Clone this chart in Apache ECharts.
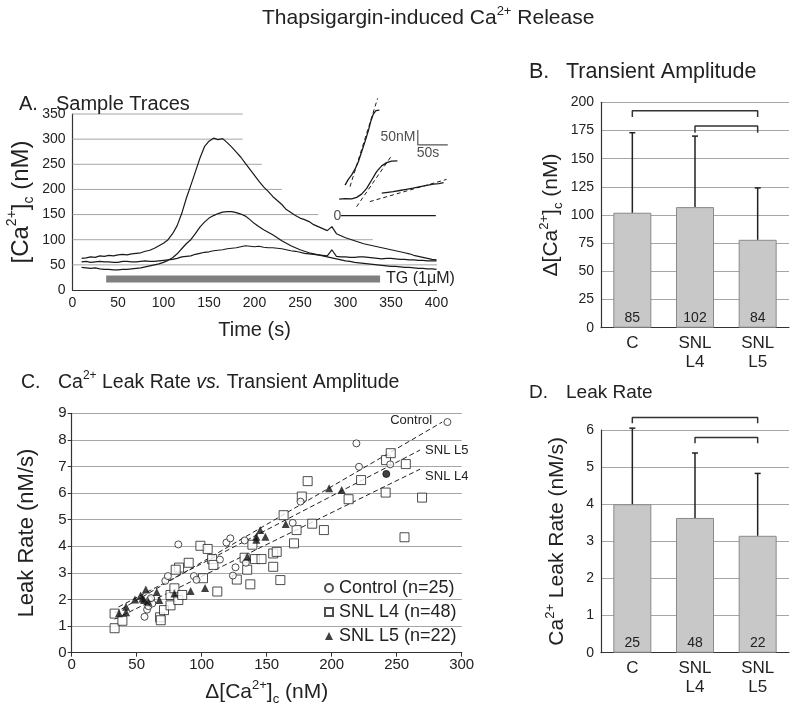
<!DOCTYPE html>
<html>
<head>
<meta charset="utf-8">
<script src="https://cdn.jsdelivr.net/npm/echarts@6/dist/echarts.min.js"></script>
<style>
  html, body { margin: 0; background: #fff; }
  #main { width: 800px; height: 707px; }
</style>
</head>
<body>
<div id="main"></div>
<script>
// ---- panel A: sample traces (nM, every 5 s)
const traceTime = [10, 15, 20, 25, 30, 35, 40, 45, 50, 55, 60, 65, 70, 75, 80, 85, 90, 95, 100, 105,
    110, 115, 120, 125, 130, 135, 140, 145, 150, 155, 160, 165, 170, 175, 180, 185, 190, 195, 200, 205,
    210, 215, 220, 225, 230, 235, 240, 245, 250, 255, 260, 265, 270, 275, 280, 285, 290, 295, 300, 305,
    310, 315, 320, 325, 330, 335, 340, 345, 350, 355, 360, 365, 370, 375, 380, 385, 390, 395, 400];
const bigTrace = [63, 64, 66, 65, 68, 67, 69, 68, 70, 71, 70, 72, 73, 74, 77, 79, 83, 88, 93, 100,
    112, 128, 152, 182, 208, 235, 262, 285, 296, 302, 299, 301, 293, 284, 274, 264, 252, 240, 228, 216,
    205, 196, 186, 178, 170, 160, 154, 148, 143, 140, 136, 130, 126, 122, 118, 126, 112, 108, 104, 101,
    98, 95, 92, 90, 88, 86, 84, 82, 80, 78, 76, 74, 72, 69, 67, 65, 63, 61, 60];
const midTrace = [45, 44, 43, 44, 42, 41, 41, 40, 40, 41, 41, 42, 43, 44, 46, 48, 50, 52, 55, 59,
    64, 72, 82, 92, 100, 112, 125, 135, 143, 148, 152, 155, 156, 156, 154, 151, 147, 140, 132, 126,
    120, 115, 110, 104, 98, 93, 88, 84, 80, 77, 74, 72, 70, 68, 66, 64, 62, 60, 58, 57,
    55, 54, 53, 52, 51, 50, 49, 48, 47, 47, 46, 45, 45, 44, 43, 43, 42, 42, 41];
const smallTrace = [56, 57, 55, 56, 57, 56, 56, 55, 55, 57, 57, 56, 56, 57, 58, 57, 57, 58, 59, 60,
    61, 63, 66, 67, 68, 71, 73, 75, 76, 78, 79, 80, 82, 83, 84, 86, 88, 87, 86, 87,
    85, 84, 84, 83, 82, 80, 78, 77, 75, 73, 72, 71, 70, 69, 68, 80, 67, 66, 66, 65,
    65, 66, 66, 65, 64, 63, 62, 63, 63, 62, 61, 61, 60, 60, 59, 59, 58, 58, 58];
const gridLevels = [50, 100, 150, 200, 250, 300, 350];
const gridEnds = [412, 330, 270, 230, 208, 187, 187];   // where the gridlines stop (s)
const tgStart = 37, tgEnd = 338, tgLevel = 22;

// ---- panel A inset (s, nM relative to the "0" line)
const insetTrace1 = [[6.7, 102], [12.2, 121], [17.8, 136], [23.3, 155], [28.9, 180], [34.4, 213],
    [40, 247], [45.5, 283], [49.4, 313], [53.9, 339], [58.3, 350], [63.9, 352]];
const insetFit1 = [[15, 97], [61, 391]];
const insetTrace2 = [[-3, 55], [6.7, 57], [17.8, 56], [26.1, 61], [34.4, 72], [42.8, 91], [51.1, 119],
    [59.4, 147], [67.8, 166], [76.1, 177], [84.4, 182], [94, 183]];
const insetFit2 = [[26, 30], [84, 199]];
const insetTrace3 = [[68, 75], [78, 78], [87, 80], [98, 84], [109, 88], [120, 92], [132, 97],
    [143, 101], [154, 105], [163, 107], [171, 110]];
const insetFit3 = [[48, 47], [176, 121]];
const insetBase = [[0, 0], [158, 0]];
const scaleBar = [[128, 286], [128, 236], [178, 236]];
const insetLabels = [
    { name: '50nM', value: [95, 263] },
    { name: '50s', value: [145, 210] },
    { name: '0', value: [-6, 0] }
];

// ---- panels B and D
const groups = ['C', 'SNL\nL4', 'SNL\nL5'];
const ampMean = [102, 107, 78];
const ampErr = [71, 63, 46];
const ampN = [85, 102, 84];
const ampBrackets = [[[0, 187], [0, 192.5], [2, 192.5], [2, 187]], [[1, 173], [1, 179], [2, 179], [2, 173]]];
const leakMean = [4.0, 3.63, 3.15];
const leakErr = [2.05, 1.75, 1.68];
const leakN = [25, 48, 22];
const leakBrackets = [[[0, 6.18], [0, 6.34], [2, 6.34], [2, 6.18]], [[1, 5.64], [1, 5.8], [2, 5.8], [2, 5.64]]];

// ---- panel C: leak rate vs amplitude
const controlPts = [[56, 1.35], [58, 1.62], [59, 1.75], [60, 1.98], [62, 1.85], [61, 2.05], [72, 2.7],
    [74, 2.88], [82, 4.07], [94, 2.88], [96, 2.74], [114, 3.5], [119, 4.14], [122, 4.3], [124, 2.9],
    [126, 3.21], [133, 4.22], [134, 3.38], [170, 4.88], [176, 5.68], [219, 7.87], [221, 6.99],
    [245, 7.08], [289, 8.67]];
const controlFilled = [[242, 6.72]];
const l4Pts = [[33, 1.47], [33, 0.92], [39, 1.2], [68, 1.33], [68.5, 1.22], [71, 1.6], [76, 1.78],
    [76, 2.17], [79, 2.42], [82, 1.98], [85, 2.17], [82.6, 3.2], [80, 3.12], [90, 3.38], [99, 4.02],
    [104.6, 3.9], [108, 3.52], [109, 3.3], [101, 2.8], [112, 2.3], [127, 2.75], [133, 3.57], [135, 3.12],
    [137.4, 2.57], [139, 4.06], [141, 3.52], [146, 3.52], [155, 3.73], [157.7, 3.79], [155, 3.23],
    [160.5, 2.73], [163, 5.17], [173, 4.61], [171, 4.11], [177, 5.87], [185, 4.85], [181.5, 6.45],
    [194, 4.61], [213, 5.77], [222.6, 6.49], [241.5, 6.02], [241.8, 7.24], [245.4, 7.5], [257, 7.09],
    [269.5, 5.83], [256, 4.34]];
const l5Pts = [[36.4, 1.48], [41.8, 1.73], [41.8, 1.52], [48.7, 2.0], [54.4, 2.04], [53, 2.15],
    [57, 2.38], [55.6, 1.98], [59, 1.92], [65.4, 2.28], [67.4, 1.98], [79, 2.23], [91.5, 2.32],
    [102.6, 2.43], [135, 3.61], [142, 4.36], [142, 4.25], [145, 4.61], [149, 4.36], [164.6, 4.84],
    [198, 6.18], [207.7, 6.12]];
const controlFit = [[33, 1.49], [285, 8.67]];
const l5Fit = [[36, 1.72], [268, 7.62]];
const l4Fit = [[33, 1.26], [268, 6.9]];

const FONT = "'Liberation Sans', Arial, sans-serif";
const INK = '#222';
const GRID_GRAY = '#a6a6a6';

function richFor(size) {
    const small = Math.round(size * 0.6);
    return {
        sup: { fontSize: small, lineHeight: small, verticalAlign: 'top', fontFamily: FONT, color: INK },
        sub: { fontSize: small, lineHeight: small, verticalAlign: 'bottom', fontFamily: FONT, color: INK },
        i: { fontStyle: 'italic', fontSize: size, fontFamily: FONT, color: INK },
        l: { width: 37, fontSize: size, fontFamily: FONT, color: INK }
    };
}
const caName = '[Ca{sup|2+}]{sub|c} (nM)';

function panelTitle(text, left, top, size) {
    return {
        text, left, top, padding: 0,
        textStyle: {
            fontSize: size, fontWeight: 'normal', fontFamily: FONT, color: INK,
            lineHeight: Math.round(size * 1.3), rich: richFor(size)
        }
    };
}

function valueAxis(gridIndex, min, max, interval, extra) {
    return Object.assign({
        gridIndex, type: 'value', min, max, interval,
        axisLine: { show: true, lineStyle: { color: '#333', width: 1.2 } },
        axisTick: { show: false },
        axisLabel: { fontSize: 14, color: INK, fontFamily: FONT, margin: 7 },
        splitLine: { show: true, lineStyle: { color: GRID_GRAY, width: 1 } }
    }, extra || {});
}

function nameStyle(size) {
    return { fontSize: size, color: INK, fontFamily: FONT, lineHeight: Math.round(size * 1.3), rich: richFor(size) };
}

function errorBars(mean, err) {
    return mean.map((m, i) => [i, m + err[i], m]);
}

function renderError(params, api) {
    const top = api.coord([api.value(0), api.value(1)]);
    const bot = api.coord([api.value(0), api.value(2)]);
    const st = { stroke: INK, lineWidth: 1.5 };
    return {
        type: 'group', children: [
            { type: 'line', shape: { x1: top[0], y1: top[1], x2: bot[0], y2: bot[1] }, style: st },
            { type: 'line', shape: { x1: top[0] - 3, y1: top[1], x2: top[0] + 3, y2: top[1] }, style: st }
        ]
    };
}

function lineSeries(x, y, data, style, more) {
    return Object.assign({
        type: 'line', xAxisIndex: x, yAxisIndex: y, data, showSymbol: false, symbol: 'none',
        silent: true, lineStyle: style, z: 3
    }, more || {});
}

const chart = echarts.init(document.getElementById('main'), null, { renderer: 'canvas' });

const series = [];
// A: partial gridlines (the inset hides their right part)
gridLevels.forEach((v, i) => {
    series.push(lineSeries(0, 0, [[0, v], [gridEnds[i], v]], { color: GRID_GRAY, width: 1 }, { z: 1, clip: false }));
});
// A: traces
[bigTrace, midTrace, smallTrace].forEach(tr => {
    series.push(lineSeries(0, 0, traceTime.map((t, i) => [t, tr[i]]), { color: '#1a1a1a', width: 1.2 }));
});
series.push(lineSeries(0, 0, [[tgStart, tgLevel], [tgEnd, tgLevel]], { color: '#808080', width: 7, cap: 'butt' }, {
    endLabel: { show: true, formatter: 'TG (1μM)', fontSize: 16, color: INK, fontFamily: FONT, distance: 6 }
}));
// A: inset
[insetTrace1, insetTrace2, insetTrace3].forEach(tr => series.push(lineSeries(1, 1, tr, { color: '#1a1a1a', width: 1.3 })));
[insetFit1, insetFit2, insetFit3].forEach(tr => series.push(lineSeries(1, 1, tr, { color: '#1a1a1a', width: 1, type: [4, 3] })));
series.push(lineSeries(1, 1, insetBase, { color: '#1a1a1a', width: 1.5 }));
series.push(lineSeries(1, 1, scaleBar, { color: '#555', width: 1.2 }));
series.push({
    type: 'scatter', xAxisIndex: 1, yAxisIndex: 1, data: insetLabels, symbolSize: 0, silent: true, clip: false,
    label: { show: true, position: 'inside', formatter: '{b}', fontSize: 14, color: INK, fontFamily: FONT }
});

// B and D bars
function barPanel(ax, mean, err, nLabels, brackets) {
    series.push({
        type: 'bar', xAxisIndex: ax, yAxisIndex: ax, data: mean, barWidth: 38, silent: true,
        itemStyle: { color: '#c8c8c8', borderColor: '#8a8a8a', borderWidth: 1 },
        label: {
            show: true, position: 'insideBottom', distance: 3, fontSize: 14, color: INK, fontFamily: FONT,
            formatter: p => nLabels[p.dataIndex]
        }
    });
    series.push({
        type: 'custom', xAxisIndex: ax, yAxisIndex: ax, data: errorBars(mean, err), renderItem: renderError,
        silent: true, z: 4, encode: { x: 0, y: [1, 2] }
    });
    brackets.forEach(b => series.push(lineSeries(ax, ax, b, { color: '#333', width: 1.5 }, { clip: false })));
}
barPanel(2, ampMean, ampErr, ampN, ampBrackets);
barPanel(4, leakMean, leakErr, leakN, leakBrackets);

// C scatter
series.push({
    name: 'Control (n=25)', type: 'scatter', xAxisIndex: 3, yAxisIndex: 3, data: controlPts,
    symbol: 'circle', symbolSize: 7, z: 5,
    itemStyle: { color: '#fff', borderColor: '#222', borderWidth: 1 }
});
series.push({
    type: 'scatter', xAxisIndex: 3, yAxisIndex: 3, data: controlFilled, symbol: 'circle', symbolSize: 7, z: 6,
    itemStyle: { color: '#111', borderColor: '#111', borderWidth: 1 }
});
series.push({
    name: 'SNL L4 (n=48)', type: 'scatter', xAxisIndex: 3, yAxisIndex: 3, data: l4Pts,
    symbol: 'rect', symbolSize: 9, z: 4,
    itemStyle: { color: '#fff', borderColor: '#222', borderWidth: 1 }
});
series.push({
    name: 'SNL L5 (n=22)', type: 'scatter', xAxisIndex: 3, yAxisIndex: 3, data: l5Pts,
    symbol: 'triangle', symbolSize: 8, z: 6,
    itemStyle: { color: '#111' }
});
const fitLabel = { fontSize: 13, color: INK, fontFamily: FONT };
series.push(lineSeries(3, 3, controlFit, { color: '#222', width: 1, type: [5, 3] },
    { endLabel: Object.assign({ show: true, formatter: 'Control', offset: [-60, -2] }, fitLabel) }));
series.push(lineSeries(3, 3, l5Fit, { color: '#222', width: 1, type: [5, 3] },
    { endLabel: Object.assign({ show: true, formatter: 'SNL L5', distance: 5 }, fitLabel) }));
series.push(lineSeries(3, 3, l4Fit, { color: '#222', width: 1, type: [5, 3] },
    { endLabel: Object.assign({ show: true, formatter: 'SNL L4', distance: 5, offset: [0, 7] }, fitLabel) }));

const option = {
    animation: false,
    backgroundColor: '#fff',
    textStyle: { fontFamily: FONT },
    title: [
        panelTitle('Thapsigargin-induced Ca{sup|2+} Release', 262, 5, 21),
        panelTitle('{l|A.}Sample Traces', 19, 91, 20),
        panelTitle('{l|B.}Transient Amplitude', 529, 58, 21.5),
        panelTitle('{l|C.}Ca{sup|2+} Leak Rate {i|vs.} Transient Amplitude', 21, 370, 19.5),
        panelTitle('{l|D.}Leak Rate', 529, 380, 19)
    ],
    legend: {
        data: ['Control (n=25)', 'SNL L4 (n=48)', 'SNL L5 (n=22)'],
        orient: 'vertical', left: 324, top: 579, itemWidth: 8, itemHeight: 8, itemGap: 6,
        padding: 0, selectedMode: false,
        textStyle: { fontSize: 18, color: INK, fontFamily: FONT, padding: [0, 0, 0, 1] }
    },
    grid: [
        { left: 72.5, top: 114, width: 364, height: 176, outerBoundsMode: 'none' },
        { left: 335, top: 95.7, width: 114, height: 120, outerBoundsMode: 'none' },
        { left: 601, top: 102.3, width: 188, height: 225.4, outerBoundsMode: 'none' },
        { left: 71.7, top: 413.3, width: 390, height: 239.4, outerBoundsMode: 'none' },
        { left: 601, top: 430, width: 188, height: 222.7, outerBoundsMode: 'none' }
    ],
    xAxis: [
        valueAxis(0, 0, 400, 50, {
            splitLine: { show: false }, axisLabel: { fontSize: 14, color: INK, fontFamily: FONT, margin: 6 },
            name: 'Time (s)', nameLocation: 'middle', nameGap: 27, nameTextStyle: nameStyle(20)
        }),
        { gridIndex: 1, type: 'value', min: -10, max: 180, show: false },
        {
            gridIndex: 2, type: 'category', data: groups,
            axisLine: { lineStyle: { color: '#333', width: 1.2 } }, axisTick: { show: false },
            axisLabel: { fontSize: 17, lineHeight: 19, color: INK, fontFamily: FONT, margin: 6 }
        },
        valueAxis(3, 0, 300, 50, {
            splitLine: { show: false }, axisTick: { show: true, length: 4, lineStyle: { color: '#333' } },
            axisLabel: { fontSize: 15, color: INK, fontFamily: FONT, margin: 5 },
            name: 'Δ' + caName, nameLocation: 'middle', nameGap: 26, nameTextStyle: nameStyle(21)
        }),
        {
            gridIndex: 4, type: 'category', data: groups,
            axisLine: { lineStyle: { color: '#333', width: 1.2 } }, axisTick: { show: false },
            axisLabel: { fontSize: 17, lineHeight: 19, color: INK, fontFamily: FONT, margin: 6 }
        }
    ],
    yAxis: [
        valueAxis(0, 0, 350, 50, {
            splitLine: { show: false },
            name: caName, nameLocation: 'middle', nameGap: 36, nameTextStyle: nameStyle(24)
        }),
        { gridIndex: 1, type: 'value', min: 0, max: 400, show: false },
        valueAxis(2, 0, 200, 25, {
            name: 'Δ' + caName, nameLocation: 'middle', nameGap: 36, nameTextStyle: nameStyle(21)
        }),
        valueAxis(3, 0, 9, 1, {
            axisTick: { show: true, length: 4, lineStyle: { color: '#333' } },
            axisLabel: { fontSize: 15, color: INK, fontFamily: FONT, margin: 5 },
            name: 'Leak Rate (nM/s)', nameLocation: 'middle', nameGap: 30, nameTextStyle: nameStyle(22)
        }),
        valueAxis(4, 0, 6, 1, {
            name: 'Ca{sup|2+} Leak Rate (nM/s)', nameLocation: 'middle', nameGap: 30, nameTextStyle: nameStyle(21)
        })
    ],
    series
};

chart.setOption(option);
</script>
</body>
</html>
